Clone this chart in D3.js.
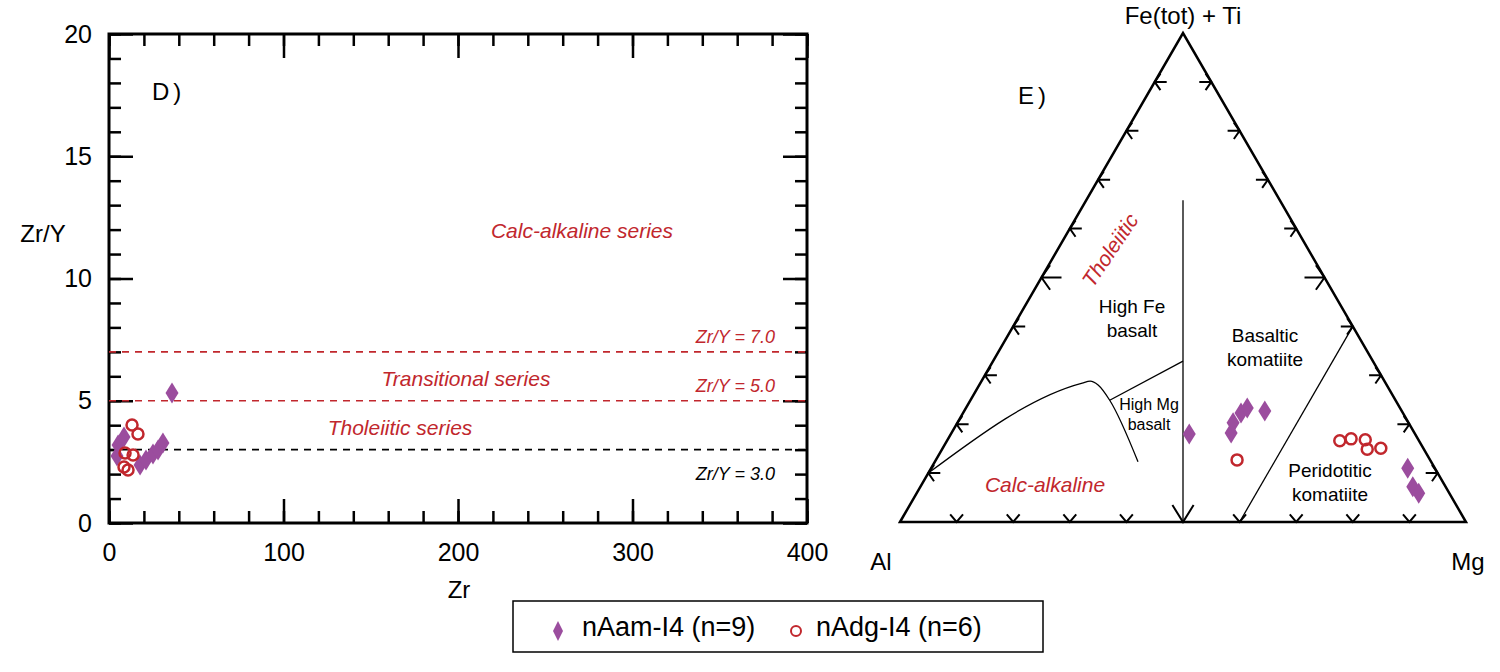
<!DOCTYPE html>
<html>
<head>
<meta charset="utf-8">
<script src="https://cdn.jsdelivr.net/npm/d3@7"></script>
<style>
  body { margin: 0; background: #fff; }
  text { font-family: "Liberation Sans", Arial, sans-serif; }
</style>
</head>
<body>
<div id="chartArea"></div>
<script>
// ---- data: Zr vs Zr/Y (panel D) ----
const amZr = [36.1, 17.8, 21.2, 25.2, 28.1, 30.9, 5.2, 8.6, 4.6];
const amZrY = [5.32, 2.37, 2.58, 2.82, 2.99, 3.27, 3.19, 3.52, 2.74];
const dgZr = [13.2, 16.6, 9.2, 13.8, 8.6, 10.9];
const dgZrY = [4.01, 3.64, 2.86, 2.78, 2.29, 2.17];

const xTicks = [0, 100, 200, 300, 400];
const xMinor = d3.range(0, 401, 20);
const yTicks = [0, 5, 10, 15, 20];
const yMinor = d3.range(0, 21, 1);
const divides = [7, 5, 3];
const divideLabels = ["Zr/Y = 7.0", "Zr/Y = 5.0", "Zr/Y = 3.0"];

// ---- data: Jensen cation plot (panel E), [Al, Fe(tot)+Ti, Mg] ----
const amAl = [39.9, 32.4, 31.0, 28.6, 27.0, 24.2, 4.8, 5.8, 5.4];
const amFe = [18.0, 18.2, 20.3, 22.3, 23.3, 22.7, 11.0, 7.2, 5.9];
const amMg = [42.1, 49.4, 48.7, 49.1, 49.7, 53.1, 84.2, 87.0, 88.7];
const dgAl = [34.1, 14.0, 11.8, 9.4, 10.0, 7.5];
const dgFe = [12.7, 16.6, 17.0, 16.8, 14.9, 15.1];
const dgMg = [53.2, 69.4, 71.2, 73.8, 75.1, 77.4];

const ternTicks = [10, 20, 30, 40, 50, 60, 70, 80, 90];
const calcAlkLine = [[90, 10, 0], [53.6, 28.4, 18.0], [52.0, 28.8, 19.2], [51.0, 28.0, 21.0], [50.5, 24.9, 24.6], [51.8, 12.3, 35.9]];
const highMgLine = [[50.5, 24.9, 24.6], [33.55, 32.9, 33.55]];
const splitLine = [[17.1, 65.8, 17.1], [50, 0, 50]];
const periLine = [[40, 0, 60], [0, 40, 60]];

const red = "#c1272d";
const purple = "#9b4d9e";
const w = 1500, h = 672;

const svg = d3.select("#chartArea")
    .append("svg")
    .attr("width", w)
    .attr("height", h);

const diamond = (sx, sy) => `M0,${-sy} L${sx},0 L0,${sy} L${-sx},0 Z`;

// ================= panel D =================
const x = d3.scaleLinear().domain([0, 400]).range([109, 807]);
const y = d3.scaleLinear().domain([0, 20]).range([523, 34]);

function tickAxis(axis, transform) {
    const g = svg.append("g")
        .attr("transform", transform)
        .call(axis);
    g.select(".domain").remove();
    g.selectAll("line").attr("stroke", "black").attr("stroke-width", 2.5);
    g.selectAll("text").attr("font-size", 25).attr("fill", "black")
        .attr("font-family", "Liberation Sans, Arial, sans-serif");
    return g;
}

// minor ticks on all four sides
tickAxis(d3.axisBottom(x).tickValues(xMinor).tickSize(-12).tickFormat(""), `translate(0,${y(0)})`);
tickAxis(d3.axisTop(x).tickValues(xMinor).tickSize(-12).tickFormat(""), `translate(0,${y(20)})`);
tickAxis(d3.axisLeft(y).tickValues(yMinor).tickSize(-12).tickFormat(""), `translate(${x(0)},0)`);
tickAxis(d3.axisRight(y).tickValues(yMinor).tickSize(-12).tickFormat(""), `translate(${x(400)},0)`);
// major ticks
tickAxis(d3.axisBottom(x).tickValues(xTicks).tickSize(-24).tickPadding(20).tickFormat(d3.format("d")), `translate(0,${y(0)})`);
tickAxis(d3.axisTop(x).tickValues(xTicks).tickSize(-24).tickFormat(""), `translate(0,${y(20)})`);
tickAxis(d3.axisLeft(y).tickValues(yTicks).tickSize(-24).tickPadding(17).tickFormat(d3.format("d")), `translate(${x(0)},0)`);
tickAxis(d3.axisRight(y).tickValues(yTicks).tickSize(-24).tickFormat(""), `translate(${x(400)},0)`);

svg.append("rect")
    .attr("x", x(0))
    .attr("y", y(20))
    .attr("width", x(400) - x(0))
    .attr("height", y(0) - y(20))
    .attr("fill", "none")
    .attr("stroke", "black")
    .attr("stroke-width", 3);

// series divides
svg.selectAll(".divide")
    .data(divides)
    .enter()
    .append("line")
    .attr("class", "divide")
    .attr("x1", x(0))
    .attr("x2", x(400))
    .attr("y1", d => y(d))
    .attr("y2", d => y(d))
    .attr("stroke", d => d === 3 ? "black" : red)
    .attr("stroke-width", 1.6)
    .attr("stroke-dasharray", "7,6");

svg.selectAll(".divLabel")
    .data(divides)
    .enter()
    .append("text")
    .attr("class", "divLabel")
    .attr("x", 775)
    .attr("y", d => d === 3 ? y(d) + 30 : y(d) - 9)
    .attr("text-anchor", "end")
    .attr("font-size", 18)
    .attr("font-style", "italic")
    .attr("fill", d => d === 3 ? "black" : red)
    .text((d, i) => divideLabels[i]);

const fieldD = [
    {t: "Calc-alkaline series", cx: 582, cy: 238},
    {t: "Transitional series", cx: 466, cy: 386},
    {t: "Tholeiitic series", cx: 400, cy: 435}
];
svg.selectAll(".fieldD")
    .data(fieldD)
    .enter()
    .append("text")
    .attr("x", d => d.cx)
    .attr("y", d => d.cy)
    .attr("text-anchor", "middle")
    .attr("font-size", 21)
    .attr("font-style", "italic")
    .attr("fill", red)
    .text(d => d.t);

svg.append("text").attr("x", 152).attr("y", 100).attr("font-size", 24)
    .attr("letter-spacing", 4).text("D)");
svg.append("text").attr("x", 43).attr("y", 242).attr("text-anchor", "middle")
    .attr("font-size", 24).text("Zr/Y");
svg.append("text").attr("x", 459).attr("y", 598).attr("text-anchor", "middle")
    .attr("font-size", 24).text("Zr");

svg.selectAll(".amD")
    .data(amZr)
    .enter()
    .append("path")
    .attr("d", diamond(6.5, 10.5))
    .attr("transform", (d, i) => `translate(${x(d)},${y(amZrY[i])})`)
    .attr("fill", purple);

svg.selectAll(".dgD")
    .data(dgZr)
    .enter()
    .append("circle")
    .attr("cx", d => x(d))
    .attr("cy", (d, i) => y(dgZrY[i]))
    .attr("r", 5.5)
    .attr("fill", "none")
    .attr("stroke", red)
    .attr("stroke-width", 2.5);

// ================= panel E =================
const tx = d3.scaleLinear().domain([0, 100]).range([900, 1466]);
const ty = d3.scaleLinear().domain([0, 100]).range([522, 33]);

function proj(p) {
    const s = p[0] + p[1] + p[2];
    const fe = p[1] / s * 100, mg = p[2] / s * 100;
    return [tx(mg + fe / 2), ty(fe)];
}

const line = d3.line();

svg.append("path")
    .attr("d", line([[100, 0, 0], [0, 100, 0], [0, 0, 100]].map(proj)) + "Z")
    .attr("fill", "none")
    .attr("stroke", "black")
    .attr("stroke-width", 2.5)
    .attr("stroke-linejoin", "miter");

// arrow ticks: stem pointing inward, head on the side
function arrowTick(pt, dir, stem, arm, ang) {
    const [px, py] = pt;
    const a0 = Math.atan2(dir[1], dir[0]);
    const a1 = a0 + ang * Math.PI / 180, a2 = a0 - ang * Math.PI / 180;
    let d = `M${px + arm * Math.cos(a1)},${py + arm * Math.sin(a1)} L${px},${py} L${px + arm * Math.cos(a2)},${py + arm * Math.sin(a2)}`;
    if (stem > 0) d += ` M${px},${py} L${px + stem * dir[0]},${py + stem * dir[1]}`;
    return d;
}

const tickG = svg.append("g")
    .attr("fill", "none")
    .attr("stroke", "black")
    .attr("stroke-width", 2);

ternTicks.forEach(t => {
    const big = t === 50;
    tickG.append("path").attr("d", arrowTick(proj([100 - t, t, 0]), [1, 0], big ? 20 : 12, big ? 15 : 10, 55));
    tickG.append("path").attr("d", arrowTick(proj([0, t, 100 - t]), [-1, 0], big ? 20 : 12, big ? 15 : 10, 55));
    tickG.append("path").attr("d", arrowTick(proj([100 - t, 0, t]), [0, -1], 0, big ? 20 : 10, big ? 32 : 40));
});

const bounds = svg.append("g")
    .attr("fill", "none")
    .attr("stroke", "black")
    .attr("stroke-width", 1.3);

bounds.append("path").attr("d", d3.line().curve(d3.curveMonotoneX)(calcAlkLine.map(proj)));
bounds.append("path").attr("d", line(highMgLine.map(proj)));
bounds.append("path").attr("d", line(splitLine.map(proj)));
bounds.append("path").attr("d", line(periLine.map(proj)));

const fieldE = [
    {t: ["High Fe", "basalt"], cx: 1132, cy: 313, fs: 19},
    {t: ["High Mg", "basalt"], cx: 1149, cy: 410, fs: 16},
    {t: ["Basaltic", "komatiite"], cx: 1265, cy: 342, fs: 19},
    {t: ["Peridotitic", "komatiite"], cx: 1330, cy: 477, fs: 19}
];
fieldE.forEach(f => {
    const txt = svg.append("text")
        .attr("text-anchor", "middle")
        .attr("font-size", f.fs);
    f.t.forEach((s, i) => {
        txt.append("tspan")
            .attr("x", f.cx)
            .attr("y", f.cy + i * f.fs * 1.25)
            .text(s);
    });
});

svg.append("text").attr("x", 1045).attr("y", 492).attr("text-anchor", "middle")
    .attr("font-size", 21).attr("font-style", "italic").attr("fill", red)
    .text("Calc-alkaline");
svg.append("text")
    .attr("transform", "translate(1110,250) rotate(-56)")
    .attr("text-anchor", "middle")
    .attr("dy", "0.35em")
    .attr("font-size", 21).attr("font-style", "italic").attr("fill", red)
    .text("Tholeiitic");

svg.append("text").attr("x", 1183).attr("y", 24).attr("text-anchor", "middle")
    .attr("font-size", 24).text("Fe(tot) + Ti");
svg.append("text").attr("x", 881).attr("y", 570).attr("text-anchor", "middle")
    .attr("font-size", 24).text("Al");
svg.append("text").attr("x", 1468).attr("y", 570).attr("text-anchor", "middle")
    .attr("font-size", 24).text("Mg");
svg.append("text").attr("x", 1018).attr("y", 104).attr("font-size", 24)
    .attr("letter-spacing", 4).text("E)");

svg.selectAll(".amE")
    .data(amAl)
    .enter()
    .append("path")
    .attr("d", diamond(6.5, 10.5))
    .attr("transform", (d, i) => `translate(${proj([d, amFe[i], amMg[i]])})`)
    .attr("fill", purple);

svg.selectAll(".dgE")
    .data(dgAl)
    .enter()
    .append("circle")
    .attr("cx", (d, i) => proj([d, dgFe[i], dgMg[i]])[0])
    .attr("cy", (d, i) => proj([d, dgFe[i], dgMg[i]])[1])
    .attr("r", 5.5)
    .attr("fill", "none")
    .attr("stroke", red)
    .attr("stroke-width", 2.5);

// ================= legend =================
const legend = svg.append("g");
legend.append("rect")
    .attr("x", 513).attr("y", 601)
    .attr("width", 530).attr("height", 51)
    .attr("fill", "white")
    .attr("stroke", "black")
    .attr("stroke-width", 1.5);
legend.append("path")
    .attr("d", diamond(5, 10))
    .attr("transform", "translate(558,631)")
    .attr("fill", purple);
legend.append("text").attr("x", 582).attr("y", 636).attr("font-size", 27)
    .text("nAam-I4 (n=9)");
legend.append("circle")
    .attr("cx", 796).attr("cy", 631).attr("r", 5)
    .attr("fill", "none").attr("stroke", red).attr("stroke-width", 2);
legend.append("text").attr("x", 816).attr("y", 636).attr("font-size", 27)
    .text("nAdg-I4 (n=6)");
</script>
</body>
</html>
